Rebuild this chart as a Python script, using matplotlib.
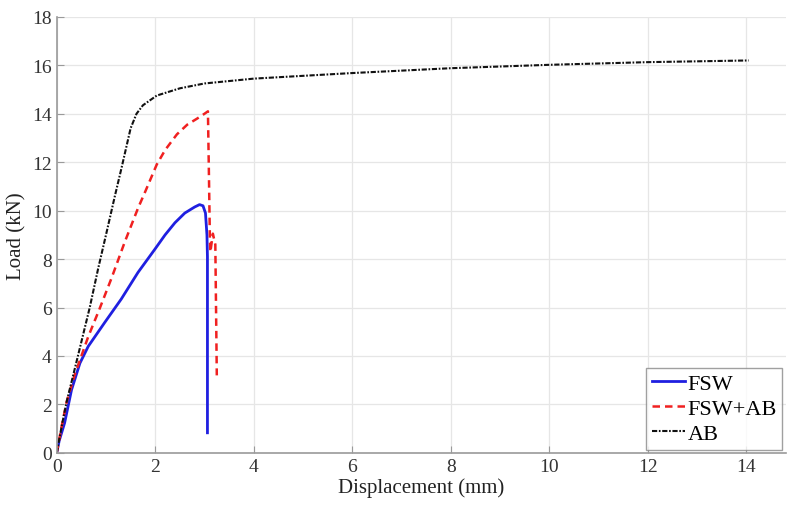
import matplotlib.pyplot as plt

# data
fsw_x = [0, 0.05, 0.16, 0.3, 0.47, 0.64, 0.98, 1.31, 1.65, 1.99, 2.2, 2.4, 2.6, 2.8, 2.9,
         2.97, 3.02, 3.05, 3.06, 3.06]
fsw_y = [0, 0.5, 1.24, 2.6, 3.7, 4.4, 5.4, 6.35, 7.45, 8.4, 9.0, 9.5, 9.9, 10.15, 10.25,
         10.2, 9.9, 9.0, 8.1, 0.83]

ab2_x = [0, 0.1, 0.2, 0.36, 0.64, 0.87, 1.11, 1.38, 1.65, 1.8, 2.03, 2.2, 2.44, 2.65, 2.85,
         3.0, 3.07, 3.09, 3.11, 3.12, 3.17, 3.22, 3.25]
ab2_y = [0, 1.1, 2.1, 3.2, 4.8, 5.95, 7.2, 8.7, 10.1, 10.8, 11.9, 12.5, 13.15, 13.55, 13.8,
         14.0, 14.1, 11.5, 8.8, 8.3, 9.05, 8.6, 3.2]

ab_x = [0, 0.1, 0.2, 0.43, 0.67, 0.84, 1.0, 1.18, 1.32, 1.5, 1.62, 1.75, 2.03, 2.5, 3, 4, 6, 8, 10, 12, 14.05]
ab_y = [0, 1.1, 2.1, 4.0, 6.0, 7.6, 9.0, 10.6, 11.8, 13.4, 14.0, 14.35, 14.75, 15.05, 15.25,
        15.45, 15.68, 15.88, 16.02, 16.13, 16.2]

plt.rcParams['font.family'] = ['Liberation Serif', 'DejaVu Serif']

fig = plt.figure(figsize=(7.88, 5.10), dpi=100)
ax = fig.add_axes([0.072, 0.11, 0.925, 0.855])

ax.plot(fsw_x, fsw_y, color='#1f1fe0', lw=2.0, label='FSW')
ax.plot(ab2_x, ab2_y, color='#f02020', lw=1.8, dashes=(3, 2), label='FSW+AB')
ax.plot(ab_x, ab_y, color='#111111', lw=1.5, dashes=(2.5, 0.8, 0.8, 0.8), label='AB')

ax.set_xlim(0, 14.8)
ax.set_ylim(0, 18)
ax.set_xticks(range(0, 15, 2))
ax.set_yticks(range(0, 19, 2))
ax.grid(True, color='#e6e6e6', lw=0.9)
ax.set_axisbelow(True)
for s in ['top', 'right']:
    ax.spines[s].set_visible(False)
for s in ['left', 'bottom']:
    ax.spines[s].set_color('#9a9a9a')
    ax.spines[s].set_linewidth(1.2)
ax.tick_params(direction='in', colors='#9a9a9a', labelcolor='#333333', labelsize=14, length=5)

ax.set_xlabel('Displacement (mm)', fontsize=15, color='#222222', labelpad=2)
ax.set_ylabel('Load (kN)', fontsize=15, color='#222222', labelpad=4)

leg = ax.legend(loc='lower right', fontsize=16, frameon=True, fancybox=False,
                handlelength=1.5, handletextpad=0.1, borderpad=0.25, labelspacing=0.2,
                borderaxespad=0.15)
leg.get_frame().set_edgecolor('#888888')
leg.get_frame().set_linewidth(1.0)

fig.savefig('out.png', dpi=100)
